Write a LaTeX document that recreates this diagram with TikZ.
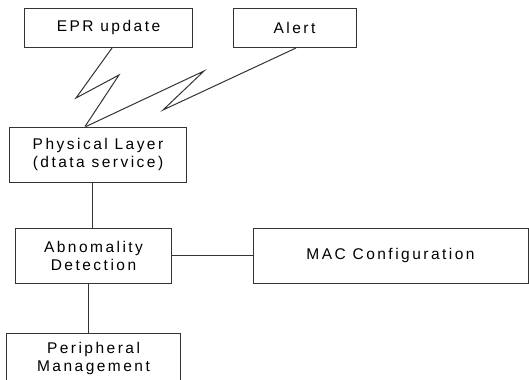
\documentclass[tikz,border=0pt]{standalone}
\usepackage{fontspec}
\setmainfont{Liberation Sans}[LetterSpace=16]

\begin{document}
\begin{tikzpicture}[x=1bp, y=-1bp, auto, line width=1bp, draw=black!80,
                    box node/.style={rectangle,draw=black!80,inner sep=0pt,align=center,
                                     font=\fontsize{15.5bp}{18bp}\selectfont}]
  \clip (0,0) rectangle (529,379);

  \node[box node,minimum width=167bp,minimum height=39.5bp] (epr) at (108.5,27.75) {EPR update};
  \node[box node,minimum width=123bp,minimum height=39.5bp] (alert) at (294.5,27.75) {Alert};
  \node[box node,minimum width=176bp,minimum height=55bp] (phy) at (98,154.5) {Physical Layer\\(dtata service)};
  \node[box node,minimum width=155bp,minimum height=55bp] (abn) at (93.5,255.5) {Abnomality\\Detection};
  \node[box node,minimum width=275bp,minimum height=55bp] (mac) at (390.5,255.5) {MAC Configuration};
  \node[box node,minimum width=173bp,minimum height=50bp] (per) at (93.5,358) {Peripheral\\Management};

  % wireless links
  \draw[black!80] (epr.south -| 112,0) -- (76,98) -- (119,75) -- (phy.north -| 85,0);
  \draw[black!80] (alert.south -| 296,0) -- (163,110) -- (204,71) -- (phy.north -| 86,0);

  \path[draw=black!80]
    (phy.south -| 92,0) edge (abn.north -| 92,0)
    (abn) edge (mac)
    (abn.south -| 88,0) edge (per.north -| 88,0);

\end{tikzpicture}
\end{document}
